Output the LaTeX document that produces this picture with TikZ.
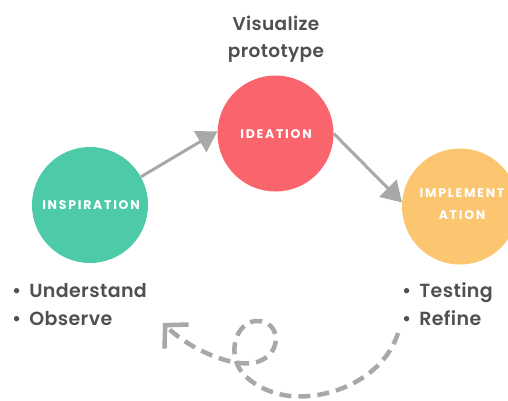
\documentclass[tikz,border=0pt]{standalone}
\usepackage{fontspec}
\setmainfont{Poppins}
\newfontfamily\bodyfont{Poppins SemiBold}[LetterSpace=2]
\newfontfamily\labelfont{Poppins Bold}[LetterSpace=14]
\usetikzlibrary{arrows.meta}
\definecolor{teal}{HTML}{4DCBA9}
\definecolor{coral}{HTML}{FA646D}
\definecolor{sand}{HTML}{FCC56F}
\definecolor{txt}{HTML}{505050}
\definecolor{arr}{HTML}{A8A8A8}
\begin{document}
\begin{tikzpicture}[x=1pt,y=-1pt,
  stage/.style={circle, minimum size=116pt, inner sep=0pt, fill=#1},
  lbl/.style={text=white, font=\labelfont\fontsize{12.5}{14}\selectfont, inner sep=0pt},
  body/.style={text=txt, font=\bodyfont\fontsize{19}{24}\selectfont, inner sep=0pt, anchor=base west},
  head/.style={text=txt, font=\bodyfont\fontsize{18.5}{24}\selectfont, inner sep=0pt, anchor=base},
  flow/.style={draw=arr, line width=3pt, -{Triangle[length=20pt,width=24pt]}},
  back/.style={draw=arr, line width=4.5pt, dash pattern=on 12pt off 7pt, -{Straight Barb[length=16pt,width=34pt,line width=4.5pt]}}
]
\path[use as bounding box] (0,0) rectangle (508,400);
\clip (0,0) rectangle (508,400);

\node[stage=teal] (insp) at (90,205) {};
\node[stage=coral] (idea) at (275.5,133.5) {};
\node[stage=sand] (impl) at (460,206.5) {};

\node[lbl] (inspl) at (91,205) {INSPIRATION};
\node[lbl] (ideal) at (276,134) {IDEATION};
\node[lbl] (impl1) at (462,193) {IMPLEMENT};
\node[lbl] (impl2) at (462,215) {ATION};

\node[head] (vis1) at (276,30) {Visualize};
\node[head] (vis2) at (276,57) {prototype};

\node[body] (u1) at (12,297) {\textbullet\hspace{8pt}Understand};
\node[body] (u2) at (12,325) {\textbullet\hspace{8pt}Observe};
\node[body] (t1) at (402,297) {\textbullet\hspace{8pt}Testing};
\node[body] (t2) at (402,325) {\textbullet\hspace{8pt}Refine};

\draw[flow] (insp.29) -- (idea.178);
\draw[flow] (idea.0) -- (impl.176);

\coordinate (fbstart) at (398,333);
\coordinate (fbend) at (163,323);
\draw[back] (fbstart) .. controls (385,375) and (335,400) .. (290,396)
  .. controls (265,393) and (245,380) .. (238,366)
  .. controls (228,345) and (240,320) .. (258,321)
  .. controls (280,322) and (282,350) .. (262,360)
  .. controls (240,372) and (190,350) .. (fbend);
\end{tikzpicture}
\end{document}
